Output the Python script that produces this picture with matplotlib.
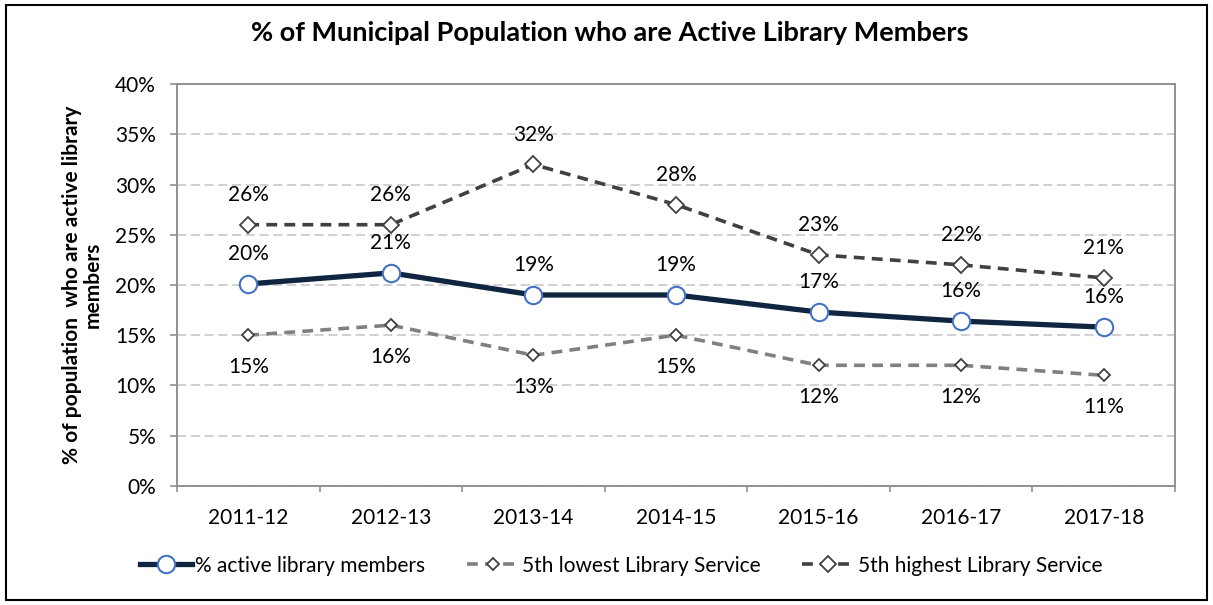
import matplotlib.pyplot as plt
from matplotlib.patches import Rectangle
from matplotlib.ticker import PercentFormatter

plt.rcParams["font.family"] = ["Lato", "DejaVu Sans"]

years = ["2011-12", "2012-13", "2013-14", "2014-15", "2015-16", "2016-17", "2017-18"]
active = [20.1, 21.2, 19.0, 19.0, 17.3, 16.4, 15.8]
lowest = [15.0, 16.0, 13.0, 15.0, 12.0, 12.0, 11.0]
highest = [26.0, 26.0, 32.0, 28.0, 23.0, 22.0, 20.7]

fig = plt.figure(figsize=(12.13, 6.05), dpi=100)
ax = fig.add_axes([0.1459, 0.197, 0.8228, 0.664])

x = list(range(len(years)))

ax.plot(x, highest, color="#404040", lw=2.6, ls=(0, (3, 2)), marker="D",
        ms=8.5, mfc="white", mec="#404040", mew=1.3, label="5th highest Library Service", zorder=3)
ax.plot(x, lowest, color="#808080", lw=2.6, ls=(0, (3, 2)), marker="D",
        ms=6.5, mfc="white", mec="#404040", mew=1.3, label="5th lowest Library Service", zorder=3)
ax.plot(x, active, color="#0F2540", lw=3.8, marker="o", ms=12.5, mfc="white",
        mec="#4472C4", mew=1.5, label="% active library members", zorder=4)

lbl = dict(textcoords="offset points", ha="center", va="center", fontsize=15)
for xi, v in zip(x, highest):
    ax.annotate(f"{v:.0f}%", (xi, v), xytext=(0, 21.5), **lbl)
for xi, v in zip(x, active):
    ax.annotate(f"{v:.0f}%", (xi, v), xytext=(0, 21.5), **lbl)
for xi, v in zip(x, lowest):
    ax.annotate(f"{v:.0f}%", (xi, v), xytext=(0, -23), **lbl)

ax.set_xlim(-0.5, len(years) - 0.5)
ax.set_ylim(0, 40)
ax.set_yticks(range(0, 41, 5))
ax.yaxis.set_major_formatter(PercentFormatter(decimals=0))
ax.set_xticks(x)
ax.set_xticklabels(years)
ax.set_xticks([i - 0.5 for i in range(len(years) + 1)], minor=True)
ax.tick_params(axis="x", which="major", length=0, pad=16, labelsize=15)
ax.tick_params(axis="x", which="minor", length=4.5, color="#909090", width=1.2)
ax.tick_params(axis="y", length=5, color="#909090", width=1.2, labelsize=15, pad=10)

ax.grid(axis="y", color="#c4c4c4", ls=(0, (6, 3)), lw=1.1)
ax.set_axisbelow(True)
for s in ax.spines.values():
    s.set_color("#909090")
    s.set_linewidth(1.4)

fig.text(0.068, (0.197 + 0.861) / 2, "% of population  who are active library\nmembers",
         rotation=90, ha="center", va="center", ma="center", fontsize=15,
         fontweight="bold", linespacing=1.0)
fig.text(0.503, 0.945, "% of Municipal Population who are Active Library Members",
         ha="center", va="center", fontsize=19.5, fontweight="bold")

handles, labels = ax.get_legend_handles_labels()
order = [2, 1, 0]
fig.legend([handles[i] for i in order], [labels[i] for i in order], loc="center",
           bbox_to_anchor=(0.512, 0.065), ncol=3, frameon=False, fontsize=15,
           handlelength=2.5, columnspacing=2.0, handletextpad=0.15)

fig.patches.append(Rectangle((0.005, 0.008), 0.99, 0.984, transform=fig.transFigure,
                             fill=False, edgecolor="black", lw=1.5))

fig.savefig("out.png", dpi=100)
